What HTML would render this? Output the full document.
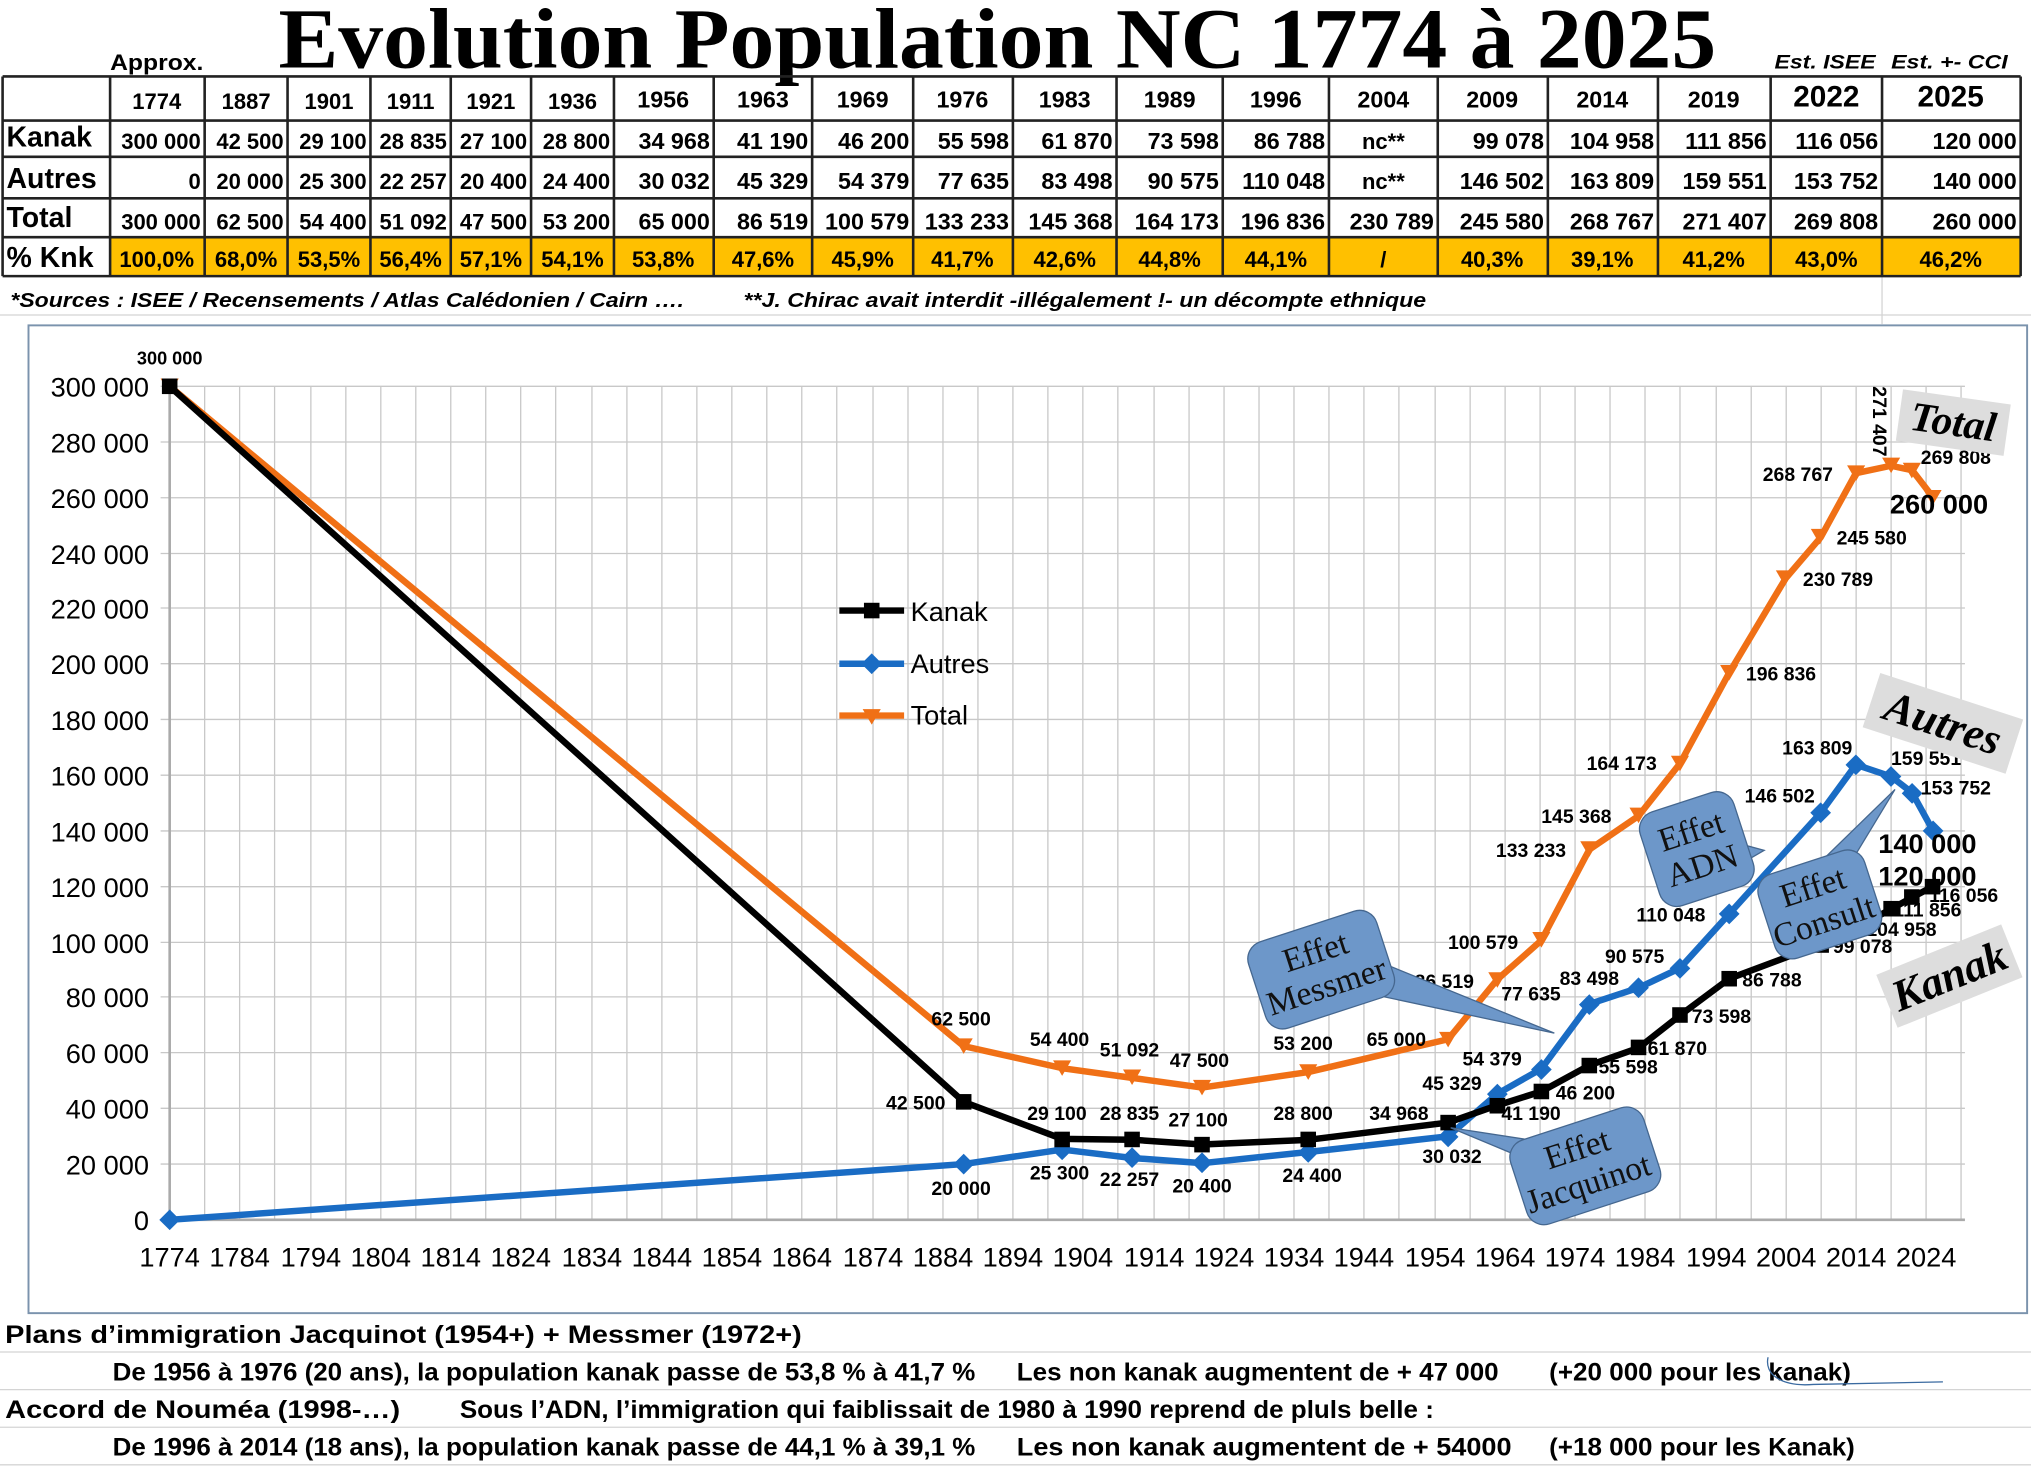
<!DOCTYPE html>
<html><head><meta charset="utf-8"><style>
html,body{margin:0;padding:0;background:#fff;}
svg{display:block;}
text{font-family:"Liberation Sans",sans-serif;}
text.sr{font-family:"Liberation Serif",serif;}
.t{font-weight:bold;font-size:17px;}
.h{font-size:17px;font-weight:bold;}
.lab{font-weight:bold;font-size:15px;}
.ax{font-size:21px;}
.bt{font-weight:bold;font-size:19px;}
</style></head><body>
<svg width="2031" height="1470" viewBox="0 0 1568 1134" preserveAspectRatio="none" xmlns="http://www.w3.org/2000/svg">
<rect width="1568" height="1134" fill="#fff"/>
<g stroke="#d4d4d4" stroke-width="1">
<line x1="0" y1="1043" x2="1568" y2="1043"/><line x1="0" y1="1072" x2="1568" y2="1072"/><line x1="0" y1="1101" x2="1568" y2="1101"/><line x1="0" y1="1130" x2="1568" y2="1130"/>
<line x1="0" y1="243" x2="1568" y2="243"/>
<line x1="1453" y1="213" x2="1453" y2="250"/>
</g>
<text class="sr" x="770" y="52" text-anchor="middle" font-weight="bold" font-size="66" textLength="1110" lengthAdjust="spacingAndGlyphs">Evolution Population NC 1774 à 2025</text>
<text x="85" y="54" class="h" font-size="16" textLength="72" lengthAdjust="spacingAndGlyphs">Approx.</text>
<text x="1370" y="53" font-size="15" font-style="italic" font-weight="bold" textLength="78" lengthAdjust="spacingAndGlyphs">Est. ISEE</text>
<text x="1460" y="53" font-size="15" font-style="italic" font-weight="bold" textLength="90" lengthAdjust="spacingAndGlyphs">Est. +- CCI</text>
<rect x="85" y="183" width="1475" height="30" fill="#ffc000"/>
<g stroke="#222" stroke-width="2" fill="none">
<line x1="2" y1="59" x2="1560" y2="59"/><line x1="2" y1="93" x2="1560" y2="93"/><line x1="2" y1="121" x2="1560" y2="121"/><line x1="2" y1="153" x2="1560" y2="153"/><line x1="2" y1="183" x2="1560" y2="183"/><line x1="2" y1="213" x2="1560" y2="213"/>
<path d="M2 59V213M85 59V213M158 59V213M222 59V213M286 59V213M348 59V213M410 59V213M474 59V213M551 59V213M627 59V213M705 59V213M782 59V213M862 59V213M944 59V213M1026 59V213M1110 59V213M1195 59V213M1280 59V213M1367 59V213M1453 59V213M1560 59V213"/>
</g>
<g class="h" text-anchor="middle">
<text x="121" y="84">1774</text><text x="190" y="84">1887</text><text x="254" y="84">1901</text><text x="317" y="84">1911</text><text x="379" y="84">1921</text><text x="442" y="84">1936</text><text x="512" y="83" font-size="18">1956</text><text x="589" y="83" font-size="18">1963</text><text x="666" y="83" font-size="18">1969</text><text x="743" y="83" font-size="18">1976</text><text x="822" y="83" font-size="18">1983</text><text x="903" y="83" font-size="18">1989</text><text x="985" y="83" font-size="18">1996</text><text x="1068" y="83" font-size="18">2004</text><text x="1152" y="83" font-size="18">2009</text><text x="1237" y="83" font-size="18">2014</text><text x="1323" y="83" font-size="18">2019</text><text x="1410" y="82" font-size="23">2022</text><text x="1506" y="82" font-size="23">2025</text>
</g>
<g font-weight="bold" font-size="22">
<text x="5" y="113">Kanak</text><text x="5" y="145">Autres</text><text x="5" y="175">Total</text><text x="5" y="206">% Knk</text>
</g>
<g class="t" text-anchor="end">
<text x="155" y="115">300 000</text><text x="219" y="115">42 500</text><text x="283" y="115">29 100</text><text x="345" y="115">28 835</text><text x="407" y="115">27 100</text><text x="471" y="115">28 800</text><text x="548" y="115" font-size="18">34 968</text><text x="624" y="115" font-size="18">41 190</text><text x="702" y="115" font-size="18">46 200</text><text x="779" y="115" font-size="18">55 598</text><text x="859" y="115" font-size="18">61 870</text><text x="941" y="115" font-size="18">73 598</text><text x="1023" y="115" font-size="18">86 788</text><text x="1192" y="115" font-size="18">99 078</text><text x="1277" y="115" font-size="18">104 958</text><text x="1364" y="115" font-size="18">111 856</text><text x="1450" y="115" font-size="18">116 056</text><text x="1557" y="115" font-size="18">120 000</text>
<text x="155" y="146">0</text><text x="219" y="146">20 000</text><text x="283" y="146">25 300</text><text x="345" y="146">22 257</text><text x="407" y="146">20 400</text><text x="471" y="146">24 400</text><text x="548" y="146" font-size="18">30 032</text><text x="624" y="146" font-size="18">45 329</text><text x="702" y="146" font-size="18">54 379</text><text x="779" y="146" font-size="18">77 635</text><text x="859" y="146" font-size="18">83 498</text><text x="941" y="146" font-size="18">90 575</text><text x="1023" y="146" font-size="18">110 048</text><text x="1192" y="146" font-size="18">146 502</text><text x="1277" y="146" font-size="18">163 809</text><text x="1364" y="146" font-size="18">159 551</text><text x="1450" y="146" font-size="18">153 752</text><text x="1557" y="146" font-size="18">140 000</text>
<text x="155" y="177">300 000</text><text x="219" y="177">62 500</text><text x="283" y="177">54 400</text><text x="345" y="177">51 092</text><text x="407" y="177">47 500</text><text x="471" y="177">53 200</text><text x="548" y="177" font-size="18">65 000</text><text x="624" y="177" font-size="18">86 519</text><text x="702" y="177" font-size="18">100 579</text><text x="779" y="177" font-size="18">133 233</text><text x="859" y="177" font-size="18">145 368</text><text x="941" y="177" font-size="18">164 173</text><text x="1023" y="177" font-size="18">196 836</text><text x="1107" y="177" font-size="18">230 789</text><text x="1192" y="177" font-size="18">245 580</text><text x="1277" y="177" font-size="18">268 767</text><text x="1364" y="177" font-size="18">271 407</text><text x="1450" y="177" font-size="18">269 808</text><text x="1557" y="177" font-size="18">260 000</text>
</g>
<g class="t" text-anchor="middle" font-size="18">
<text x="1068" y="115">nc**</text><text x="1068" y="146">nc**</text>
<text x="121" y="206">100,0%</text><text x="190" y="206">68,0%</text><text x="254" y="206">53,5%</text><text x="317" y="206">56,4%</text><text x="379" y="206">57,1%</text><text x="442" y="206">54,1%</text><text x="512" y="206">53,8%</text><text x="589" y="206">47,6%</text><text x="666" y="206">45,9%</text><text x="743" y="206">41,7%</text><text x="822" y="206">42,6%</text><text x="903" y="206">44,8%</text><text x="985" y="206">44,1%</text><text x="1068" y="206">/</text><text x="1152" y="206">40,3%</text><text x="1237" y="206">39,1%</text><text x="1323" y="206">41,2%</text><text x="1410" y="206">43,0%</text><text x="1506" y="206">46,2%</text>
</g>
<text x="8" y="237" font-size="16" font-weight="bold" font-style="italic" textLength="520" lengthAdjust="spacingAndGlyphs">*Sources : ISEE / Recensements / Atlas Calédonien / Cairn ….</text>
<text x="574" y="237" font-size="16" font-weight="bold" font-style="italic" textLength="527" lengthAdjust="spacingAndGlyphs">**J. Chirac avait interdit -illégalement !-  un décompte ethnique</text>

<rect x="22" y="251" width="1543" height="762" fill="#fff" stroke="#7b93ad" stroke-width="1.5"/>
<g stroke="#c8c8c8" stroke-width="1">
<path d="M158 298V941M212 298V941M267 298V941M321 298V941M375 298V941M429 298V941M484 298V941M538 298V941M592 298V941M646 298V941M701 298V941M755 298V941M809 298V941M863 298V941M918 298V941M972 298V941M1026 298V941M1080 298V941M1135 298V941M1189 298V941M1243 298V941M1297 298V941M1352 298V941M1406 298V941M1460 298V941M1514 298V941"/>
<path d="M185 298V941M240 298V941M294 298V941M348 298V941M402 298V941M457 298V941M511 298V941M565 298V941M619 298V941M674 298V941M728 298V941M782 298V941M836 298V941M891 298V941M945 298V941M999 298V941M1053 298V941M1108 298V941M1162 298V941M1216 298V941M1270 298V941M1325 298V941M1379 298V941M1433 298V941M1487 298V941"/>
<path d="M124 298H1517M124 341H1517M124 384H1517M124 427H1517M124 469H1517M124 512H1517M124 555H1517M124 598H1517M124 641H1517M124 684H1517M124 727H1517M124 769H1517M124 812H1517M124 855H1517M124 898H1517"/>
</g>
<g stroke="#aaa" stroke-width="2"><line x1="124" y1="941" x2="1517" y2="941"/><line x1="131" y1="298" x2="131" y2="941"/></g>
<g class="ax" text-anchor="end">
<text x="115" y="306">300 000</text><text x="115" y="349">280 000</text><text x="115" y="392">260 000</text><text x="115" y="435">240 000</text><text x="115" y="477">220 000</text><text x="115" y="520">200 000</text><text x="115" y="563">180 000</text><text x="115" y="606">160 000</text><text x="115" y="649">140 000</text><text x="115" y="692">120 000</text><text x="115" y="735">100 000</text><text x="115" y="777">80 000</text><text x="115" y="820">60 000</text><text x="115" y="863">40 000</text><text x="115" y="906">20 000</text><text x="115" y="949">0</text>
</g>
<g class="ax" text-anchor="middle" font-size="20">
<text x="131" y="977">1774</text><text x="185" y="977">1784</text><text x="240" y="977">1794</text><text x="294" y="977">1804</text><text x="348" y="977">1814</text><text x="402" y="977">1824</text><text x="457" y="977">1834</text><text x="511" y="977">1844</text><text x="565" y="977">1854</text><text x="619" y="977">1864</text><text x="674" y="977">1874</text><text x="728" y="977">1884</text><text x="782" y="977">1894</text><text x="836" y="977">1904</text><text x="891" y="977">1914</text><text x="945" y="977">1924</text><text x="999" y="977">1934</text><text x="1053" y="977">1944</text><text x="1108" y="977">1954</text><text x="1162" y="977">1964</text><text x="1216" y="977">1974</text><text x="1270" y="977">1984</text><text x="1325" y="977">1994</text><text x="1379" y="977">2004</text><text x="1433" y="977">2014</text><text x="1487" y="977">2024</text>
</g>
<g fill="none" stroke-width="5" stroke-linejoin="round">
<polyline stroke="#f07016" points="131,298 744,807 820,824 874,831.5 928,839 1010,827 1118,801.7 1156,755.6 1190,725.4 1227,655.4 1265,629.4 1297,589 1335,519 1378.5,446.3 1405.6,414.6 1432.8,365 1459.9,359.3 1476.2,362.7 1492.4,383.7"/>
<polyline stroke="#1a6cc4" points="131,941 744,898 820,886.8 874,893.3 928,897.3 1010,888.7 1118,876.6 1156,843.8 1190,824.5 1227,774.6 1265,762 1297,746.9 1335,705 1405.6,627 1432.8,589.9 1459.9,599 1476.2,611.5 1492.4,640.9"/>
<polyline stroke="#000" points="131,298 744,850 820,878.6 874,879.2 928,882.9 1010,879.3 1118,866 1156,852.7 1190,842 1227,821.8 1265,808.4 1297,783.3 1335,755 1405.6,728.6 1432.8,716 1459.9,701.3 1476.2,692.3 1492.4,683.8"/>
</g>
<g fill="#f07016">
<path d="M124,292h14l-7,12z M737,801h14l-7,12z M813,818h14l-7,12z M867,825h14l-7,12z M921,833h14l-7,12z M1003,821h14l-7,12z M1111,796h14l-7,12z M1149,750h14l-7,12z M1183,719h14l-7,12z M1220,649h14l-7,12z M1258,623h14l-7,12z M1290,583h14l-7,12z M1328,513h14l-7,12z M1371,440h14l-7,12z M1398,408h14l-7,12z M1426,359h14l-7,12z M1453,353h14l-7,12z M1469,357h14l-7,12z M1485,378h14l-7,12z"/>
</g>
<g fill="#1a6cc4">
<path d="M131,933l8,8l-8,8l-8,-8z M744,890l8,8l-8,8l-8,-8z M820,879l8,8l-8,8l-8,-8z M874,885l8,8l-8,8l-8,-8z M928,889l8,8l-8,8l-8,-8z M1010,881l8,8l-8,8l-8,-8z M1118,869l8,8l-8,8l-8,-8z M1156,836l8,8l-8,8l-8,-8z M1190,817l8,8l-8,8l-8,-8z M1227,767l8,8l-8,8l-8,-8z M1265,754l8,8l-8,8l-8,-8z M1297,739l8,8l-8,8l-8,-8z M1335,697l8,8l-8,8l-8,-8z M1405.6,619l8,8l-8,8l-8,-8z M1432.8,582l8,8l-8,8l-8,-8z M1459.9,591l8,8l-8,8l-8,-8z M1476.2,604l8,8l-8,8l-8,-8z M1492.4,633l8,8l-8,8l-8,-8z"/>
</g>
<g fill="#000">
<rect x="125" y="292" width="12" height="12"/><rect x="738" y="844" width="12" height="12"/><rect x="814" y="873" width="12" height="12"/><rect x="868" y="873" width="12" height="12"/><rect x="922" y="877" width="12" height="12"/><rect x="1004" y="873" width="12" height="12"/><rect x="1112" y="860" width="12" height="12"/><rect x="1150" y="847" width="12" height="12"/><rect x="1184" y="836" width="12" height="12"/><rect x="1221" y="816" width="12" height="12"/><rect x="1259" y="802" width="12" height="12"/><rect x="1291" y="777" width="12" height="12"/><rect x="1329" y="749" width="12" height="12"/><rect x="1400" y="723" width="12" height="12"/><rect x="1427" y="710" width="12" height="12"/><rect x="1454" y="695" width="12" height="12"/><rect x="1470" y="686" width="12" height="12"/><rect x="1486" y="678" width="12" height="12"/>
</g>
<g class="lab" text-anchor="middle">
<text x="131" y="281" font-size="14">300 000</text>
<text x="742" y="791">62 500</text><text x="818" y="807">54 400</text><text x="872" y="815">51 092</text><text x="926" y="823">47 500</text><text x="1006" y="810">53 200</text><text x="1078" y="807">65 000</text>
<text x="1115" y="762">86 519</text><text x="1145" y="732">100 579</text><text x="1182" y="661">133 233</text><text x="1217" y="635">145  368</text><text x="1252" y="594">164 173</text><text x="1375" y="525">196 836</text><text x="1419" y="452">230 789</text><text x="1445" y="420">245 580</text><text x="1388" y="371">268 767</text><text x="1510" y="358">269 808</text>
<text x="707" y="856">42 500</text><text x="816" y="864">29 100</text><text x="872" y="864">28 835</text><text x="925" y="869">27 100</text><text x="1006" y="864">28 800</text><text x="1080" y="864">34 968</text>
<text x="1182" y="864">41 190</text><text x="1224" y="848">46 200</text><text x="1257" y="828">55 598</text><text x="1295" y="814">61 870</text><text x="1329" y="789">73 598</text><text x="1368" y="761">86 788</text><text x="1438" y="735">99 078</text><text x="1468" y="722">104 958</text><text x="1488" y="707">111 856</text><text x="1516" y="696">116 056</text>
<text x="742" y="922">20 000</text><text x="818" y="910">25 300</text><text x="872" y="915">22 257</text><text x="928" y="920">20 400</text><text x="1013" y="912">24 400</text><text x="1121" y="897">30 032</text>
<text x="1121" y="841">45 329</text><text x="1152" y="822">54 379</text><text x="1182" y="772">77 635</text><text x="1227" y="760">83 498</text><text x="1262" y="743">90 575</text><text x="1290" y="711">110 048</text><text x="1374" y="619">146 502</text><text x="1403" y="582">163 809</text><text x="1487" y="590">159 551</text><text x="1510" y="613">153 752</text>
</g>
<text x="0" y="0" class="lab" transform="translate(1446,298) rotate(90)">271 407</text>
<g font-weight="bold" font-size="21" text-anchor="middle">
<text x="1497" y="396">260 000</text><text x="1488" y="658">140 000</text><text x="1488" y="683">120 000</text>
</g>
<g stroke-width="5"><line x1="648" y1="471" x2="698" y2="471" stroke="#000"/><line x1="648" y1="512" x2="698" y2="512" stroke="#1a6cc4"/><line x1="648" y1="552" x2="698" y2="552" stroke="#f07016"/></g>
<rect x="667" y="465" width="12" height="12"/><path d="M673,504l8,8l-8,8l-8,-8z" fill="#1a6cc4"/><path d="M666,547h14l-7,12z" fill="#f07016"/>
<g font-size="21"><text x="703" y="479">Kanak</text><text x="703" y="519">Autres</text><text x="703" y="559">Total</text></g>
<g fill="#6d97c9" stroke="#45678f" stroke-width="1">
<path d="M1060,740 L1200,797 L1050,765 Z"/>
<g transform="translate(1020,748) rotate(-18)"><rect x="-52" y="-35" width="104" height="70" rx="14"/></g>
<path d="M1120,870 L1185,880 L1180,895 Z"/>
<g transform="translate(1222,900) rotate(-18)"><rect x="-52" y="-34" width="108" height="68" rx="14"/></g>
<path d="M1340,650 L1362,656 L1343,667 Z"/>
<g transform="translate(1310,655) rotate(-18)"><rect x="-38" y="-38" width="76" height="76" rx="14"/></g>
<path d="M1390,680 L1463,609 L1420,680 Z"/>
<g transform="translate(1404,698) rotate(-18)"><rect x="-42" y="-34" width="86" height="68" rx="14"/></g>
</g>
<g font-size="26" fill="#111" text-anchor="middle">
<g transform="translate(1020,748) rotate(-18)"><text class="sr" y="-6">Effet</text><text class="sr" y="22">Messmer</text></g>
<g transform="translate(1222,900) rotate(-18)"><text class="sr" y="-6">Effet</text><text class="sr" y="22">Jacquinot</text></g>
<g transform="translate(1310,655) rotate(-18)"><text class="sr" y="-6">Effet</text><text class="sr" y="22">ADN</text></g>
<g transform="translate(1404,698) rotate(-18)"><text class="sr" y="-6">Effet</text><text class="sr" y="22">Consult</text></g>
</g>
<g transform="translate(1508,326) rotate(8)"><rect x="-42" y="-20" width="84" height="40" fill="#ddd"/><text class="sr" x="0" y="10" text-anchor="middle" font-weight="bold" font-style="italic" font-size="32">Total</text></g>
<g transform="translate(1500,558) rotate(18)"><rect x="-58" y="-22" width="116" height="44" fill="#ddd"/><text class="sr" x="0" y="11" text-anchor="middle" font-weight="bold" font-style="italic" font-size="34">Autres</text></g>
<g transform="translate(1505,753) rotate(-22)"><rect x="-52" y="-22" width="104" height="44" fill="#ddd"/><text class="sr" x="0" y="11" text-anchor="middle" font-weight="bold" font-style="italic" font-size="34">Kanak</text></g>
<g class="bt">
<text x="4" y="1036" textLength="615" lengthAdjust="spacingAndGlyphs">Plans d’immigration Jacquinot (1954+) + Messmer (1972+)</text>
<text x="87" y="1065" textLength="666" lengthAdjust="spacingAndGlyphs">De 1956 à 1976 (20 ans), la population kanak passe de 53,8 % à 41,7 %</text>
<text x="785" y="1065" textLength="372" lengthAdjust="spacingAndGlyphs">Les non kanak augmentent de + 47 000</text>
<text x="1196" y="1065" textLength="233" lengthAdjust="spacingAndGlyphs">(+20 000 pour les kanak)</text>
<text x="4" y="1094" textLength="305" lengthAdjust="spacingAndGlyphs">Accord de Nouméa (1998-…)</text>
<text x="355" y="1094" textLength="752" lengthAdjust="spacingAndGlyphs">Sous l’ADN, l’immigration qui faiblissait de 1980 à 1990 reprend de pluls belle :</text>
<text x="87" y="1123" textLength="666" lengthAdjust="spacingAndGlyphs">De 1996 à 2014 (18 ans), la population kanak passe de 44,1 % à 39,1 %</text>
<text x="785" y="1123" textLength="382" lengthAdjust="spacingAndGlyphs">Les non kanak augmentent de +   54000</text>
<text x="1196" y="1123" textLength="236" lengthAdjust="spacingAndGlyphs">(+18 000 pour les Kanak)</text>
</g>
<path d="M1365,1047 C1362,1060 1375,1070 1400,1068 L1500,1066" fill="none" stroke="#3a6aa0" stroke-width="1"/>
</svg>
</body></html>
